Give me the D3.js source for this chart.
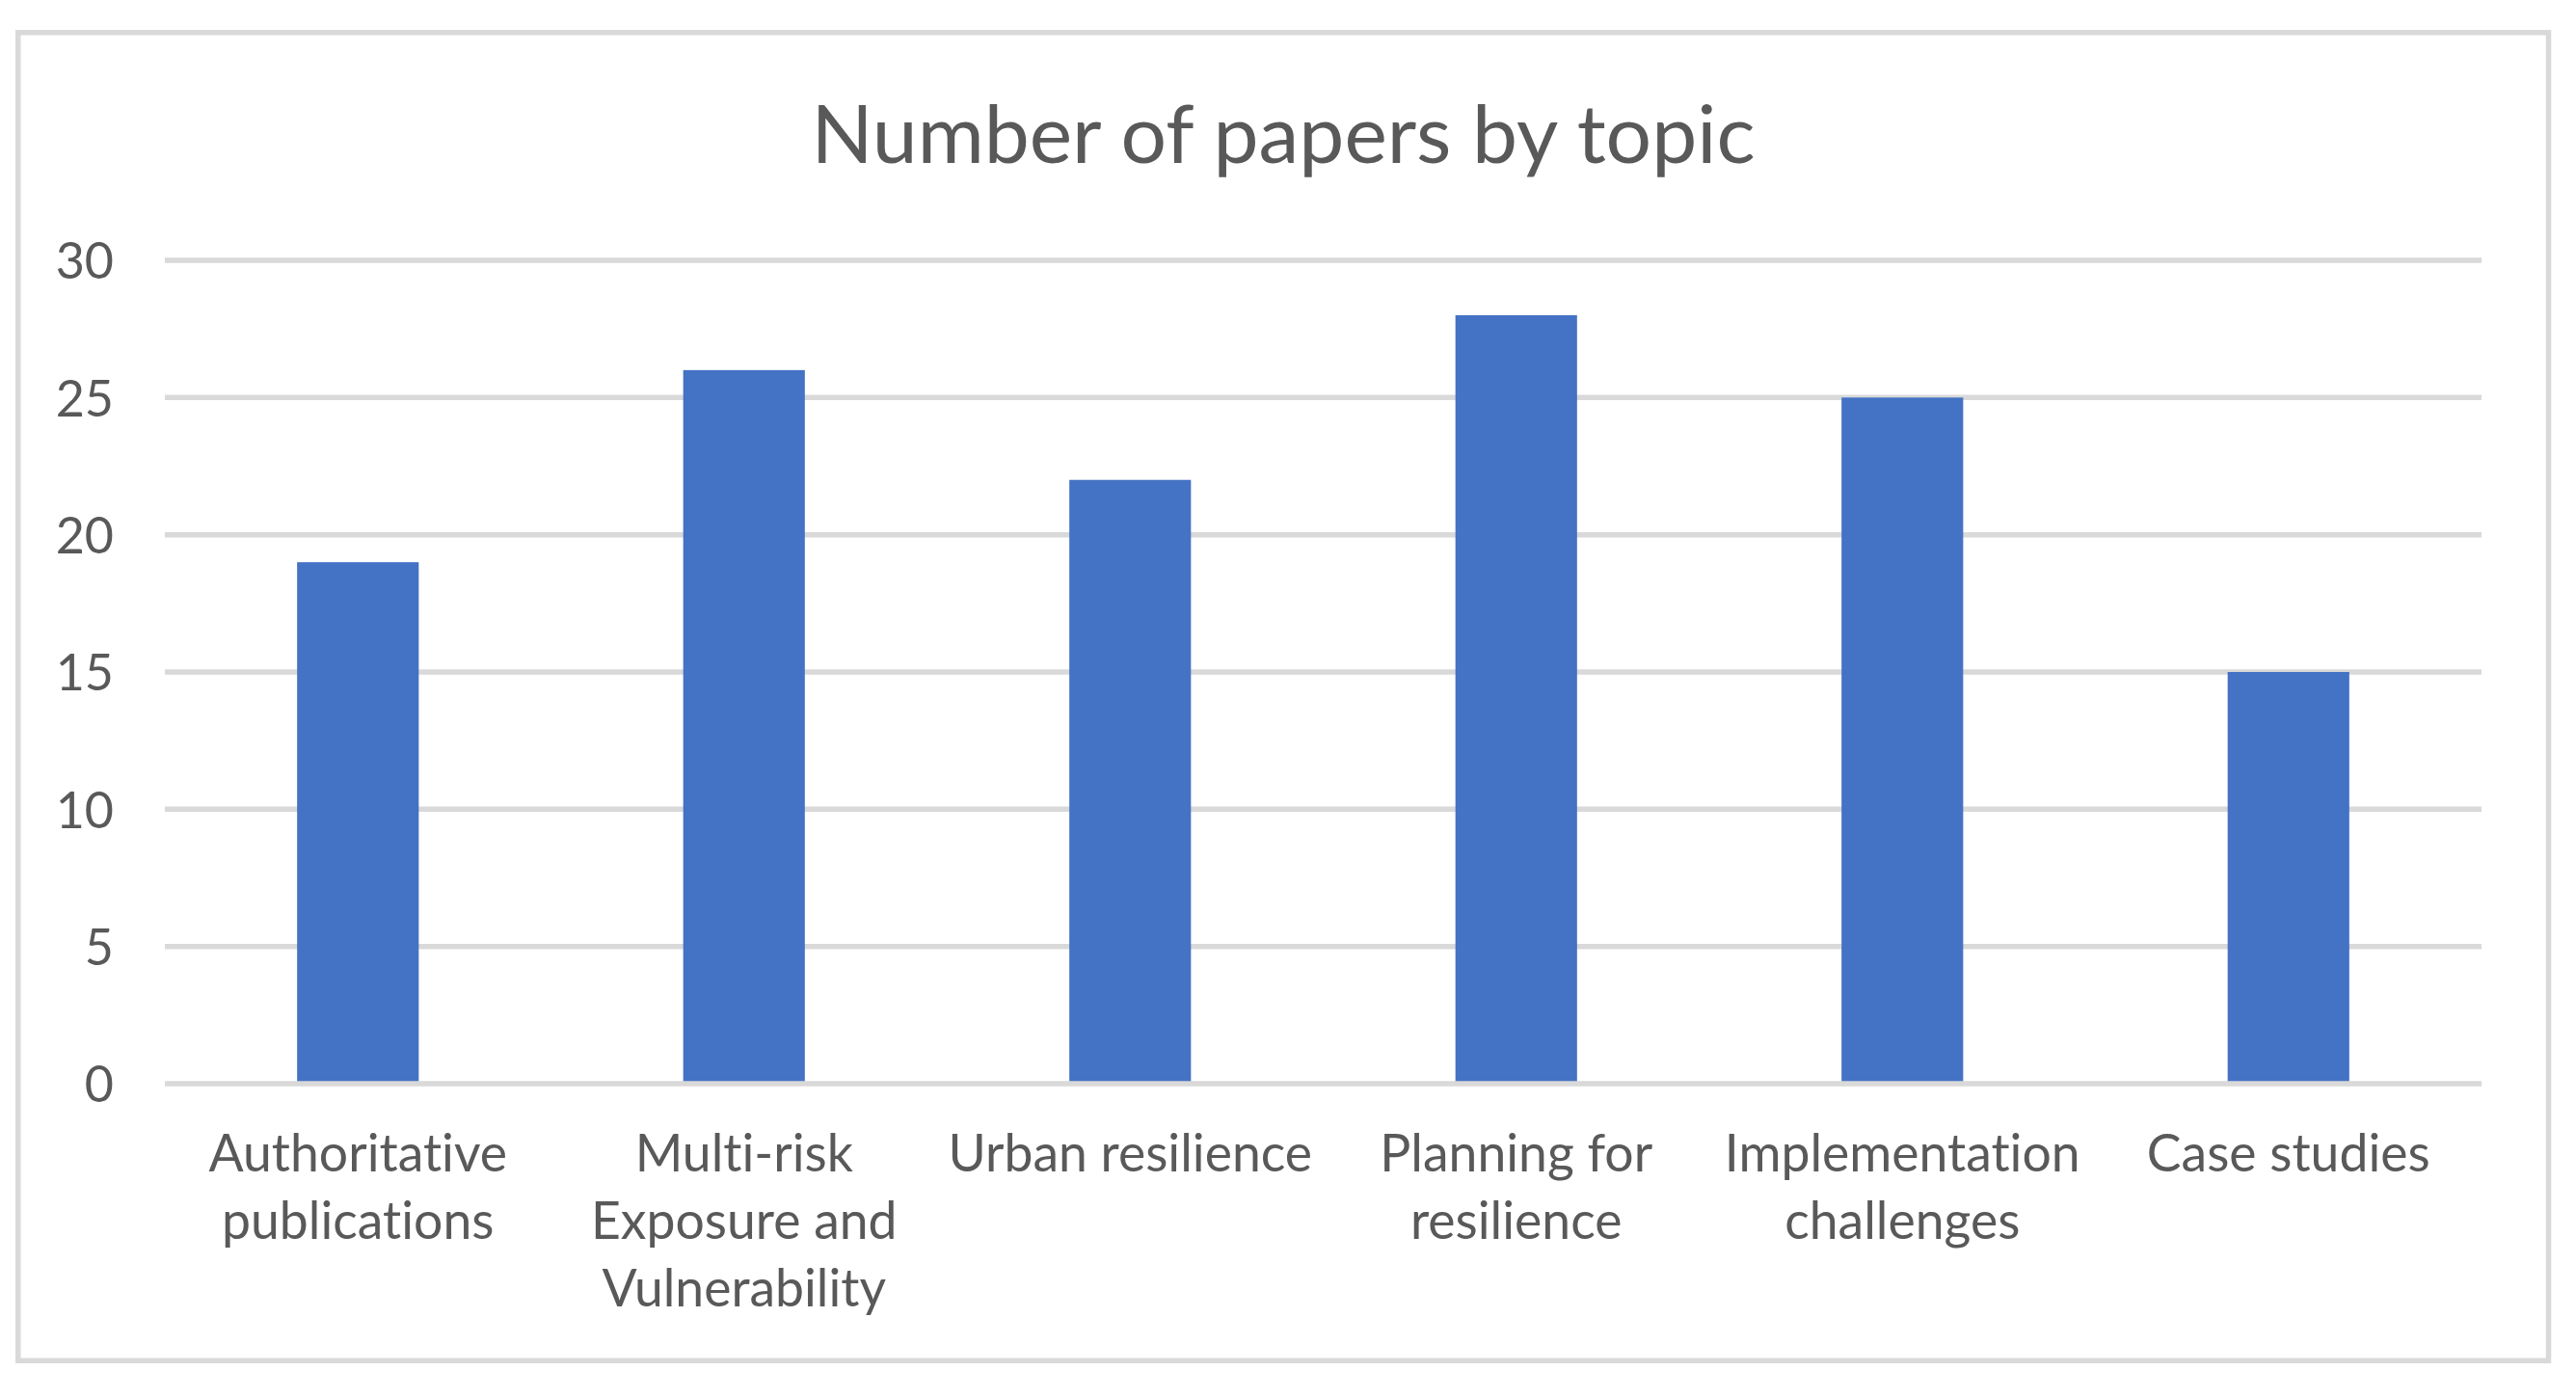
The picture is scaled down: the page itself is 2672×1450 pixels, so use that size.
<!DOCTYPE html>
<html>
<head>
<meta charset="utf-8">
<script src="https://cdn.jsdelivr.net/npm/d3@7"></script>
<style>
  html, body { margin: 0; padding: 0; background: #ffffff; }
  svg { display: block; }
  text { font-family: Lato, "Open Sans", sans-serif; fill: #595959; font-variant-ligatures: none; font-feature-settings: "liga" 0, "clig" 0; }
</style>
</head>
<body>
<svg id="chart" width="2672" height="1450"></svg>
<script>
const title = "Number of papers by topic";
const categories = [
  "Authoritative\npublications",
  "Multi-risk\nExposure and\nVulnerability",
  "Urban resilience",
  "Planning for\nresilience",
  "Implementation\nchallenges",
  "Case studies"
];
const values = [19, 26, 22, 28, 25, 15];
const yTicks = [0, 5, 10, 15, 20, 25, 30];

const W = 2672, H = 1450;
const svg = d3.select("#chart");

// outer chart border
svg.append("rect")
  .attr("x", 18.75).attr("y", 33.75)
  .attr("width", 2643.5 - 18.75).attr("height", 1411.3 - 33.75)
  .attr("fill", "#ffffff")
  .attr("stroke", "#d9d9d9").attr("stroke-width", 5.5);

const plot = { left: 171, right: 2574, top: 270, bottom: 1124 };

const x = d3.scaleBand()
  .domain(categories)
  .range([plot.left, plot.right])
  .paddingInner(0.685)
  .paddingOuter(0.3425);

const y = d3.scaleLinear()
  .domain([0, 30])
  .range([plot.bottom, plot.top]);

// gridlines (except baseline)
svg.append("g").selectAll("line")
  .data(yTicks.filter(d => d !== 0))
  .join("line")
  .attr("x1", plot.left).attr("x2", plot.right)
  .attr("y1", d => y(d)).attr("y2", d => y(d))
  .attr("stroke", "#d9d9d9").attr("stroke-width", 5.5);

// bars
svg.append("g").selectAll("rect")
  .data(values)
  .join("rect")
  .attr("x", (d, i) => x(categories[i]))
  .attr("width", x.bandwidth())
  .attr("y", d => y(d))
  .attr("height", d => y(0) - y(d))
  .attr("fill", "#4472c4");

// baseline on top
svg.append("line")
  .attr("x1", plot.left).attr("x2", plot.right)
  .attr("y1", y(0)).attr("y2", y(0))
  .attr("stroke", "#d9d9d9").attr("stroke-width", 5.5);

// y axis labels
const yAxis = d3.axisLeft(y).tickValues(yTicks).tickSize(0).tickPadding(0);
const yg = svg.append("g")
  .attr("transform", `translate(${118},0)`)
  .call(yAxis);
yg.select(".domain").remove();
yg.selectAll("text")
  .attr("font-size", 52)
  .attr("font-family", "Lato, 'Open Sans', sans-serif")
  .attr("fill", "#595959")
  .attr("dy", "0.36em");

// x axis labels (multi-line)
const xg = svg.append("g");
categories.forEach((c, i) => {
  const lines = c.split("\n");
  const t = xg.append("text")
    .attr("x", x(c) + x.bandwidth() / 2)
    .attr("y", 1215)
    .attr("text-anchor", "middle")
    .attr("font-size", 53.5);
  lines.forEach((ln, j) => {
    t.append("tspan")
      .attr("x", x(c) + x.bandwidth() / 2)
      .attr("y", 1215 + j * 70)
      .text(ln);
  });
});

// title
svg.append("text")
  .attr("x", 1331)
  .attr("y", 169)
  .attr("text-anchor", "middle")
  .attr("font-size", 84)
  .text(title);
</script>
</body>
</html>
